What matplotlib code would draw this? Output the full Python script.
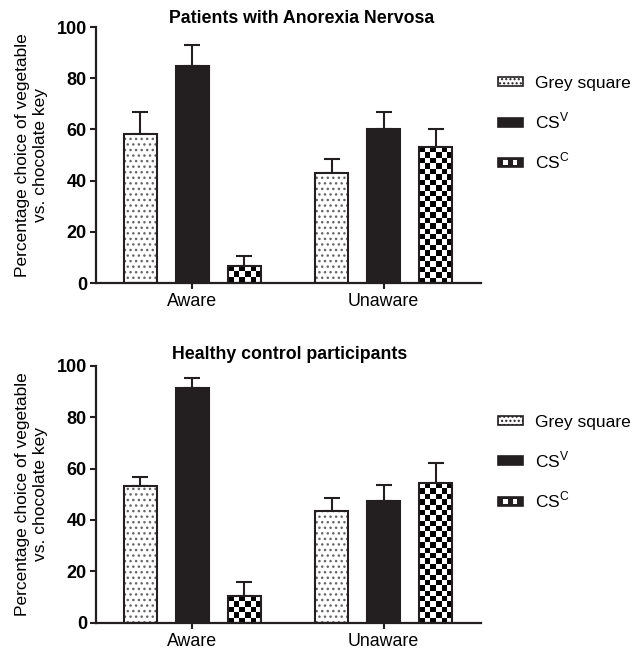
import numpy as np
import matplotlib
matplotlib.use("Agg")
import matplotlib.pyplot as plt
from matplotlib.patches import Patch, Rectangle
from matplotlib.legend_handler import HandlerBase

plt.rcParams['font.family'] = ['Liberation Sans', 'DejaVu Sans']

groups = ['Aware', 'Unaware']
conditions = ['Grey square', 'CS$^{\\mathregular{V}}$', 'CS$^{\\mathregular{C}}$']

# panel A: patients with anorexia nervosa
an_means = {'grey': [58.2, 42.8], 'csv': [84.7, 60.3], 'csc': [6.7, 53.0]}
an_errs = {'grey': [8.6, 5.5], 'csv': [8.3, 6.4], 'csc': [3.8, 7.0]}

# panel B: healthy controls
hc_means = {'grey': [53.0, 43.6], 'csv': [91.2, 47.5], 'csc': [10.4, 54.3]}
hc_errs = {'grey': [3.7, 4.9], 'csv': [4.0, 6.1], 'csc': [5.3, 7.8]}

ink = '#231f20'
width = 0.173
offsets = [-0.272, 0, 0.272]


class CheckerHandler(HandlerBase):
    def create_artists(self, legend, orig_handle, xdescent, ydescent,
                       width, height, fontsize, trans):
        arts = [Rectangle((-xdescent, -ydescent), width, height,
                          facecolor=ink, edgecolor=ink, lw=1.2, transform=trans)]
        w = width / 5.0
        for i in (1, 3):
            arts.append(Rectangle((-xdescent + i * w, -ydescent + height * 0.25),
                                  w * 0.9, height * 0.5, facecolor='white',
                                  edgecolor='none', transform=trans))
        return arts


def checker_fill(ax, bars, cell_px=5.4):
    # draw a checkerboard inside each bar, clipped to the bar
    for b in bars:
        x0, y0 = b.get_x(), b.get_y()
        w, h = b.get_width(), b.get_height()
        p0 = ax.transData.transform((x0, y0))
        p1 = ax.transData.transform((x0 + w, y0 + h))
        ncol = max(1, int(round((p1[0] - p0[0]) / cell_px)))
        nrow = max(1, int(round((p1[1] - p0[1]) / cell_px)))
        img = (np.add.outer(np.arange(nrow), np.arange(ncol)) % 2).astype(float)
        im = ax.imshow(img, cmap='gray', vmin=0, vmax=1, extent=(x0, x0 + w, y0, y0 + h),
                       origin='lower', interpolation='nearest', aspect='auto', zorder=2)
        im.set_clip_path(b)
        ax.add_patch(Rectangle((x0, y0), w, h, fill=False, edgecolor=ink, lw=1.5, zorder=3))


def draw_panel(ax, means, errs, title, title_x, title_pad):
    x = np.arange(len(groups))
    ax.set_xlim(-0.503, 1.508)
    ax.set_ylim(0, 100)

    # grey square: dotted
    xs = x + offsets[0]
    ax.bar(xs, means['grey'], width, color='white', edgecolor='#666666', hatch='...',
           lw=0, zorder=2)
    ax.bar(xs, means['grey'], width, fill=False, edgecolor=ink, lw=1.5, zorder=3)
    ax.errorbar(xs, means['grey'], yerr=[np.zeros(2), errs['grey']], fmt='none',
                ecolor=ink, elinewidth=1.5, capsize=6, capthick=1.5, zorder=1)

    # CS V: solid black
    xs = x + offsets[1]
    ax.bar(xs, means['csv'], width, color=ink, edgecolor=ink, lw=1.5, zorder=3)
    ax.errorbar(xs, means['csv'], yerr=[np.zeros(2), errs['csv']], fmt='none',
                ecolor=ink, elinewidth=1.5, capsize=6, capthick=1.5, zorder=1)

    # CS C: checkerboard
    xs = x + offsets[2]
    bars = ax.bar(xs, means['csc'], width, color='white', lw=0, zorder=1.5)
    checker_fill(ax, bars)
    ax.errorbar(xs, means['csc'], yerr=[np.zeros(2), errs['csc']], fmt='none',
                ecolor=ink, elinewidth=1.5, capsize=6, capthick=1.5, zorder=1)

    ax.set_xlim(-0.503, 1.508)
    ax.set_ylim(0, 100)
    ax.set_xticks(x)
    ax.set_xticklabels(groups, fontsize=12.8)
    ax.set_yticks(range(0, 101, 20))
    for lab in ax.get_yticklabels():
        lab.set_fontweight('bold')
        lab.set_fontsize(13)
    ax.tick_params(axis='both', direction='out', length=4.5, width=1.5, color=ink)
    ax.tick_params(axis='x', pad=3)
    ax.tick_params(axis='y', pad=2)
    for s in ['top', 'right']:
        ax.spines[s].set_visible(False)
    for s in ['left', 'bottom']:
        ax.spines[s].set_linewidth(1.6)
        ax.spines[s].set_color(ink)
    ax.set_ylabel('Percentage choice of vegetable\nvs. chocolate key', fontsize=12.5,
                  linespacing=1.25, labelpad=6)
    ax.set_title(title, fontsize=12.8, fontweight='bold', x=title_x, pad=title_pad)

    handles = [Patch(facecolor='white', edgecolor=ink, hatch='....', lw=1.2),
               Patch(facecolor=ink, edgecolor=ink, lw=1.2),
               Patch(facecolor=ink, edgecolor=ink)]
    ax.legend(handles, conditions, loc='upper left', bbox_to_anchor=(1.045, 0.81),
              frameon=False, fontsize=12.5, handlelength=1.4, handleheight=0.42,
              handletextpad=0.7, labelspacing=1.15, borderpad=0, borderaxespad=0,
              handler_map={handles[2]: CheckerHandler()})


fig = plt.figure(figsize=(6.33, 6.53), dpi=100)
ax1 = fig.add_axes([96 / 633, 1 - 283 / 653, 385 / 633, 256 / 653])
ax2 = fig.add_axes([96 / 633, 1 - 622.7 / 653, 385 / 633, 257 / 653])

draw_panel(ax1, an_means, an_errs, 'Patients with Anorexia Nervosa', 0.533, 2)
draw_panel(ax2, hc_means, hc_errs, 'Healthy control participants', 0.502, 5)

fig.savefig('out.png', dpi=100)
